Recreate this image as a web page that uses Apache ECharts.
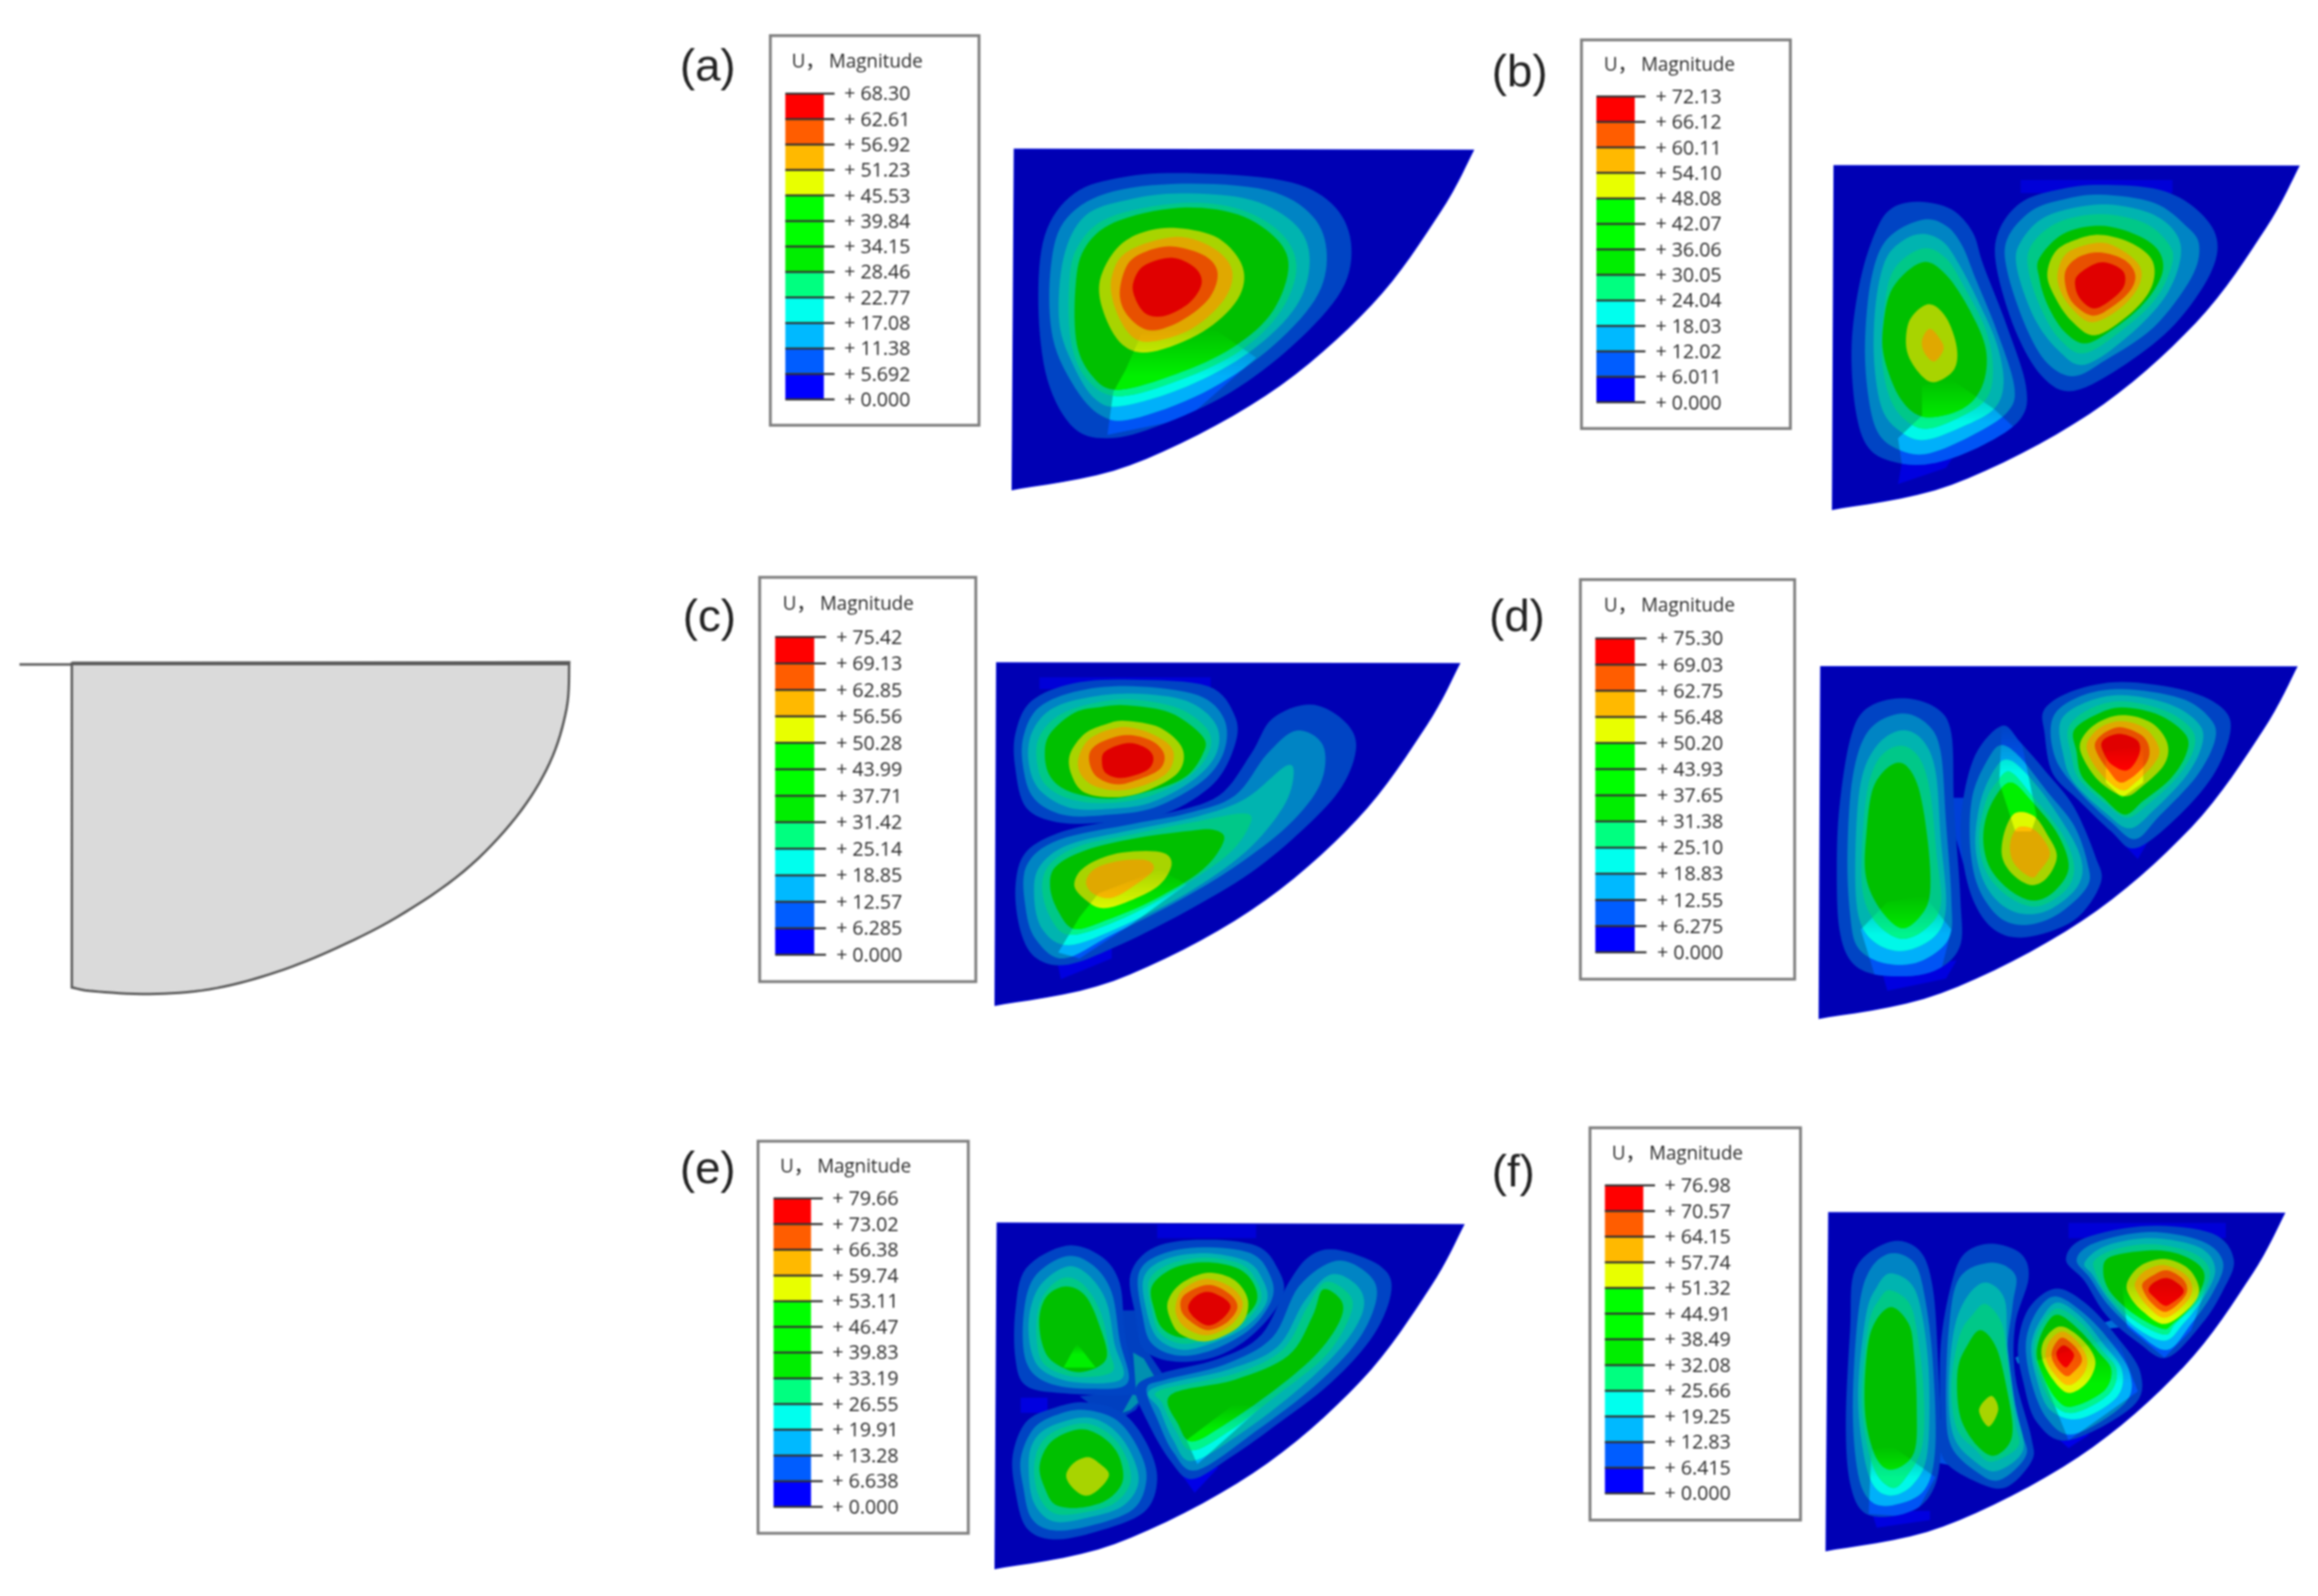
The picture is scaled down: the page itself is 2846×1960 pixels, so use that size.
<!DOCTYPE html>
<html><head><meta charset="utf-8">
<script src="https://cdn.jsdelivr.net/npm/echarts@6/dist/echarts.min.js"></script>
<style>html,body{margin:0;padding:0;background:#fff}#c{width:2846px;height:1960px;filter:blur(0.8px)}</style>
</head><body><div id="c"></div>
<script>
// ---------- values ----------
const ticksA=['68.30','62.61','56.92','51.23','45.53','39.84','34.15','28.46','22.77','17.08','11.38','5.692','0.000'];
const ticksB=['72.13','66.12','60.11','54.10','48.08','42.07','36.06','30.05','24.04','18.03','12.02','6.011','0.000'];
const ticksC=['75.42','69.13','62.85','56.56','50.28','43.99','37.71','31.42','25.14','18.85','12.57','6.285','0.000'];
const ticksD=['75.30','69.03','62.75','56.48','50.20','43.93','37.65','31.38','25.10','18.83','12.55','6.275','0.000'];
const ticksE=['79.66','73.02','66.38','59.74','53.11','46.47','39.83','33.19','26.55','19.91','13.28','6.638','0.000'];
const ticksF=['76.98','70.57','64.15','57.74','51.32','44.91','38.49','32.08','25.66','19.25','12.83','6.415','0.000'];
const legendColors=['#ff0000','#ff5d00','#ffb900','#e8ff00','#00ff00','#00ff00','#00ee00','#00ff80','#00ffee','#00b9ff','#005dff','#0000ff'];
const bandDull=['#0000b4','#0044c4','#0084c4','#00b4b0','#00c888','#00c000','#a8d400','#e0a800','#e85000','#e00000'];
const bandLit=[[0,0,235],[0,84,245],[0,176,250],[0,248,232],[0,245,140],[0,240,0],[222,250,0],[255,190,0],[255,92,0],[255,0,0]];
const arcShape=[[.928,.181],[.778,.456],[.549,.722],[.255,.927]];
const schematicArc=[1522,100,1515,270,1470,470,1380,670,1240,870,1060,1040,880,1165,720,1250,560,1305,400,1322,250,1312,192,1298];

// each blob: lit region (flat x,y list, or null), then contours [band, flat x,y list]
const blobsA=[
 {lit:[916,985,1050,970,1130,1060,1000,1250,852,1300,863,1167,886,1098],c:[
  [1,[1000,487,1180,510,1270,580,1307,700,1290,850,1200,1020,1080,1170,950,1270,860,1310,790,1280,740,1130,723,900,735,680,790,550,880,500]],
  [2,[990,520,1150,540,1235,620,1262,740,1240,880,1150,1040,1030,1170,900,1250,840,1240,790,1150,750,1000,745,800,770,640,850,550]],
  [3,[990,550,1120,570,1205,650,1230,760,1205,900,1120,1040,1000,1150,880,1210,830,1190,790,1090,762,950,770,750,810,620,890,570]],
  [4,[990,580,1100,600,1180,680,1205,790,1170,930,1090,1050,970,1140,870,1180,815,1130,785,1020,780,850,795,720,855,625]],
  [5,[985,595,1095,615,1170,695,1190,790,1155,930,1075,1040,965,1120,870,1160,825,1120,795,1020,792,850,808,725,865,640]],
  [6,[985,658,1060,690,1105,780,1095,880,1030,980,935,1042,880,1020,845,920,838,820,870,720,920,670]],
  [7,[980,685,1050,720,1085,790,1070,880,1010,970,935,1010,895,990,865,900,860,810,890,730]],
  [8,[975,715,1035,745,1058,800,1040,880,985,950,930,975,890,930,875,860,890,770,925,730]],
  [9,[972,750,1015,780,1028,830,1005,890,960,930,925,925,905,880,900,830,920,775]]]}
];
const blobsB=[
 {lit:[825,1130,880,1110,960,1200,1000,1260,900,1400,790,1400,780,1290,825,1220],c:[
  [1,[820,567,880,590,920,660,940,760,985,950,1020,1130,1010,1230,940,1310,850,1365,780,1365,725,1320,700,1200,693,1000,710,800,740,650,770,585]],
  [2,[825,622,870,640,900,700,925,800,965,960,998,1130,985,1210,920,1280,840,1335,790,1330,745,1280,725,1170,718,1000,730,800,760,680]],
  [3,[825,665,865,690,895,760,930,870,965,1000,978,1120,960,1200,900,1255,830,1295,785,1270,750,1200,735,1050,738,880,755,750,785,690]],
  [4,[825,710,870,740,905,830,945,960,958,1080,945,1170,890,1230,825,1260,775,1200,752,1080,752,930,770,780]],
  [5,[825,752,870,790,915,900,945,1020,938,1130,900,1200,830,1225,785,1170,755,1050,752,950,770,830]],
  [6,[838,880,870,920,890,1010,885,1080,850,1118,825,1100,800,1040,795,980,805,920]],
  [7,[840,955,860,990,865,1020,848,1055,830,1030,825,990]]]},
 {lit:null,c:[
  [1,[1160,515,1270,530,1340,590,1378,680,1365,790,1300,940,1210,1060,1110,1145,1050,1100,1000,960,965,770,968,660,1010,570,1080,530]],
  [2,[1160,545,1260,570,1320,640,1345,700,1330,800,1260,950,1170,1050,1110,1100,1060,1060,1020,950,985,780,985,680,1030,595,1090,560]],
  [3,[1160,575,1250,600,1300,660,1310,740,1280,860,1210,980,1130,1065,1080,1020,1035,920,1003,770,1010,690,1060,610]],
  [4,[1160,605,1240,630,1285,690,1295,750,1265,860,1200,960,1130,1030,1085,990,1050,900,1025,780,1030,700,1080,630]],
  [5,[1160,640,1230,670,1270,720,1275,790,1240,880,1180,960,1130,1000,1090,960,1060,880,1045,800,1045,740,1090,665]],
  [6,[1160,668,1220,695,1258,750,1255,830,1215,910,1150,975,1105,930,1075,860,1060,790,1075,720,1110,685]],
  [7,[1160,692,1205,720,1235,770,1230,830,1195,895,1145,935,1110,900,1085,840,1080,780,1100,720]],
  [8,[1160,722,1205,745,1225,790,1215,840,1180,890,1145,915,1110,880,1095,830,1095,775,1120,735]],
  [9,[1160,752,1200,775,1205,820,1185,860,1150,893,1125,870,1113,830,1118,790]]]}
];
const blobsC=[
 {lit:null,c:[
  [1,[900,398,1040,420,1090,520,1090,620,1050,750,960,850,850,880,760,880,700,830,680,700,680,580,710,470,790,410]],
  [2,[900,420,1020,450,1070,530,1070,640,1030,740,940,830,850,855,770,855,715,800,695,700,695,590,725,490,800,435]],
  [3,[900,445,1000,470,1055,550,1055,650,1010,740,930,815,850,835,780,830,725,770,705,680,710,580,745,500,810,460]],
  [4,[895,465,985,495,1040,570,1040,650,1000,730,925,795,845,815,780,800,735,750,720,670,725,590,760,520,820,480]],
  [5,[890,485,970,510,1030,590,1030,650,995,730,920,780,850,800,780,775,745,725,735,650,745,580,790,510,840,490]],
  [6,[885,537,950,560,992,630,985,710,930,770,870,795,810,780,785,720,782,650,810,580,850,548]],
  [7,[885,558,945,590,975,640,965,710,920,755,870,772,825,755,800,710,800,650,825,590]],
  [8,[890,585,935,605,958,650,950,700,910,735,870,752,835,730,820,690,820,640,845,605]],
  [9,[890,612,925,630,938,665,925,705,880,730,850,715,842,680,848,640]]]},
 {lit:[800,1200,835,1120,950,1040,1000,1090,900,1220,800,1340,760,1320],c:[
  [1,[1230,482,1290,530,1317,620,1290,760,1220,900,1120,1050,1000,1180,880,1290,780,1360,720,1340,690,1250,680,1100,700,980,770,910,880,870,960,850,1060,790,1120,650,1160,530]],
  [2,[1205,570,1255,620,1250,750,1190,890,1090,1030,980,1150,860,1260,770,1340,720,1280,700,1180,700,1030,760,940,900,885,1000,850,1090,790,1150,650]],
  [3,[1185,690,1200,720,1180,830,1110,980,1000,1120,880,1230,780,1295,730,1240,715,1130,725,1030,780,955,900,905,1020,860,1110,800]],
  [4,[1110,850,1115,900,1070,1000,960,1130,860,1220,780,1260,745,1200,730,1100,745,1020,800,960,900,920,1010,880]],
  [5,[1050,905,1070,940,1030,1040,940,1140,850,1210,790,1240,760,1180,745,1100,755,1030,810,975,900,935,1000,910]],
  [6,[950,980,972,1020,950,1090,900,1140,845,1170,810,1140,790,1090,810,1030,870,985]],
  [7,[925,1008,938,1040,905,1090,860,1135,825,1120,812,1080,830,1035,875,1010]]]}
];
const blobsD=[
 {lit:[760,1110,830,1090,880,1200,860,1340,740,1370,710,1200],c:[
  [1,[785,445,850,475,880,560,885,800,897,1100,895,1260,840,1340,750,1350,695,1310,670,1200,665,1000,670,800,690,580,720,480]],
  [2,[785,495,835,530,860,620,870,850,880,1100,875,1230,820,1305,755,1310,705,1260,690,1150,685,950,695,700,725,550]],
  [3,[785,550,825,580,850,680,860,900,870,1120,850,1220,790,1270,735,1240,705,1150,700,950,710,720,740,600]],
  [4,[785,600,820,640,840,750,852,950,860,1120,830,1200,785,1230,740,1180,715,1090,712,950,722,750,745,640]],
  [5,[780,655,815,720,835,900,840,1080,820,1160,785,1195,745,1130,720,1030,720,900,735,730]]]},
 {lit:[975,530,1005,530,1040,830,1030,880,1000,880,970,720],c:[
  [1,[975,535,1010,590,1060,690,1110,800,1150,960,1160,1050,1110,1170,1020,1225,960,1200,920,1100,900,950,900,800,925,630]],
  [2,[975,598,1010,640,1060,750,1110,860,1135,980,1135,1060,1080,1150,1020,1185,970,1160,930,1060,915,920,920,760,950,640]],
  [3,[985,645,1020,690,1070,800,1120,950,1120,1050,1070,1130,1020,1150,975,1120,940,1040,925,920,935,780,960,680]],
  [4,[990,685,1030,760,1085,880,1110,990,1095,1070,1040,1125,985,1090,945,1010,932,900,945,780,965,720]],
  [5,[990,720,1030,780,1080,890,1100,1000,1070,1080,1030,1105,985,1065,950,990,940,890,955,790]],
  [6,[1000,820,1035,830,1060,890,1078,960,1060,1030,1030,1055,995,1020,975,960,980,880]],
  [7,[1010,865,1040,880,1065,950,1045,1010,1030,1030,1000,990,990,940,995,890]]]},
 {lit:[1170,620,1240,600,1240,720,1200,770,1170,720],c:[
  [1,[1200,392,1320,420,1390,480,1403,560,1370,700,1300,840,1225,935,1180,880,1120,780,1070,690,1055,560,1055,480,1110,420]],
  [2,[1200,415,1310,445,1365,510,1375,580,1340,700,1270,830,1225,905,1180,850,1120,750,1075,640,1070,510,1120,440]],
  [3,[1200,435,1290,465,1345,530,1350,600,1320,700,1260,810,1215,870,1170,820,1110,720,1090,630,1085,520,1130,460]],
  [4,[1200,455,1280,485,1330,545,1335,610,1305,700,1250,790,1210,835,1170,790,1120,710,1105,630,1100,540,1140,480]],
  [5,[1200,475,1270,500,1320,565,1320,630,1290,710,1240,780,1205,825,1165,770,1125,700,1115,620,1110,550,1150,500]],
  [6,[1200,500,1255,525,1285,590,1280,660,1240,730,1205,765,1160,720,1130,650,1122,590,1150,530]],
  [7,[1200,520,1245,545,1270,610,1260,660,1225,720,1200,745,1165,700,1140,640,1135,590,1160,540]],
  [8,[1200,540,1240,570,1252,620,1240,670,1200,720,1175,680,1155,630,1150,590,1170,555]],
  [9,[1200,562,1230,585,1232,630,1210,680,1180,660,1165,620,1162,590,1175,570]]]}
];
const blobsE=[
 {lit:[795,730,830,810,770,810],c:[
  [1,[775,405,840,440,875,530,885,700,905,880,890,900,770,895,700,870,680,780,680,620,700,480]],
  [2,[775,440,825,470,860,560,875,720,890,860,820,880,740,860,700,790,695,640,715,510]],
  [3,[775,475,815,500,850,590,865,730,880,845,800,860,740,830,712,770,705,650,725,540]],
  [4,[775,510,810,540,840,630,855,750,860,825,790,840,735,800,720,720,722,620,740,550]],
  [5,[775,540,810,570,835,660,850,780,800,825,750,790,730,730,725,640,740,570]]]},
 {lit:null,c:[
  [1,[1030,385,1130,405,1170,480,1180,570,1130,690,1060,770,980,790,920,750,905,640,895,500,940,410]],
  [2,[1030,410,1120,430,1155,500,1160,580,1120,680,1050,750,985,770,935,730,918,640,910,500,950,435]],
  [3,[1035,430,1110,455,1140,510,1150,590,1110,675,1045,730,990,750,945,710,925,620,920,510,960,450]],
  [4,[1035,445,1100,465,1130,520,1138,590,1100,670,1040,715,990,730,950,695,935,620,930,520,970,465]],
  [5,[1035,460,1095,480,1125,530,1130,595,1095,660,1040,700,990,710,955,680,940,620,935,540,975,480]],
  [6,[1040,495,1090,520,1115,590,1100,670,1040,722,990,700,970,650,965,590,990,530]],
  [7,[1040,515,1085,545,1105,600,1085,665,1040,702,1000,680,980,630,985,570,1005,535]],
  [8,[1040,535,1080,565,1095,610,1075,660,1040,685,1010,660,990,620,995,570]],
  [9,[1040,558,1070,580,1082,610,1065,650,1040,670,1015,645,1003,610,1015,575]]]},
 {lit:[1000,1050,1090,930,1140,940,1020,1130],c:[
  [1,[1280,418,1360,470,1383,550,1350,700,1270,860,1160,1010,1080,1110,1010,1180,970,1120,930,1000,905,880,950,830,1060,780,1140,700,1190,530,1230,440]],
  [2,[1280,455,1340,500,1355,580,1320,720,1240,870,1130,1020,1020,1150,975,1090,945,980,925,880,960,850,1070,800,1160,710,1210,540]],
  [3,[1270,500,1320,540,1330,620,1290,740,1210,880,1100,1030,1010,1120,975,1050,950,950,935,880,1080,815,1170,740,1220,590]],
  [4,[1260,525,1305,570,1305,640,1260,770,1170,900,1080,1020,1010,1085,980,1020,955,930,950,885,1090,830,1180,750,1225,610]],
  [5,[1255,550,1290,590,1285,660,1240,770,1160,890,1070,1000,1010,1055,985,1000,970,900,1090,850,1190,770,1235,640]]]},
 {lit:null,c:[
  [1,[810,925,880,960,925,1060,945,1180,920,1290,830,1355,750,1380,700,1340,680,1220,675,1100,700,990,750,945]],
  [2,[810,950,870,985,910,1080,925,1180,900,1280,820,1335,750,1350,710,1310,695,1210,690,1110,715,1010,760,965]],
  [3,[810,975,860,1010,895,1090,910,1190,880,1270,810,1310,750,1320,715,1260,705,1160,710,1070,740,1010]],
  [4,[810,995,855,1030,885,1100,895,1190,865,1260,810,1290,755,1295,725,1240,715,1150,725,1070,755,1020]],
  [5,[810,1015,850,1050,875,1110,880,1190,850,1250,800,1275,755,1265,735,1210,725,1140,740,1070,770,1030]],
  [6,[815,1107,835,1125,855,1165,835,1215,810,1235,785,1205,775,1165,790,1125]]]}
];
const blobsF=[
 {lit:[730,1090,770,1080,850,1180,810,1310,725,1300],c:[
  [1,[765,412,820,440,845,560,855,800,860,1100,840,1240,790,1300,720,1300,690,1200,682,1000,690,700,700,500]],
  [2,[765,450,810,480,830,590,845,800,850,1080,830,1220,775,1270,730,1260,705,1170,695,950,705,650,725,510]],
  [3,[765,515,805,550,825,650,838,850,835,1100,810,1200,770,1240,735,1210,715,1100,705,900,720,650,740,560]],
  [4,[765,570,800,610,815,700,828,900,825,1080,795,1180,770,1215,740,1170,720,1060,712,900,725,680,745,600]],
  [5,[765,625,800,680,810,780,815,950,810,1100,770,1155,740,1120,720,1000,718,850,730,700]]]},
 {lit:null,c:[
  [1,[955,418,1010,450,1025,530,1000,680,1000,850,1030,1050,1030,1130,980,1215,920,1190,865,1120,860,1000,860,750,880,550,905,450]],
  [2,[955,480,1000,520,995,620,985,800,1010,1020,1020,1110,970,1190,925,1160,880,1080,870,950,875,700,895,530]],
  [3,[945,545,980,600,985,750,1000,950,1015,1090,965,1160,925,1130,885,1050,875,900,885,700,910,590]],
  [4,[945,615,975,680,985,800,1000,1000,1005,1080,955,1130,925,1090,890,1020,880,880,895,720,920,650]],
  [5,[935,700,965,760,985,900,995,1020,985,1080,955,1110,920,1060,895,970,892,830,910,750]],
  [6,[955,915,968,960,950,1015,932,960]]]},
 {lit:[1040,800,1190,720,1230,900,1100,1060],c:[
  [1,[1075,565,1130,610,1190,720,1235,840,1220,950,1100,1060,1040,1000,1015,870,1005,750,1025,630]],
  [2,[1075,590,1125,640,1175,730,1215,840,1205,940,1110,1040,1060,990,1030,870,1020,740,1040,640]],
  [3,[1080,610,1125,660,1165,745,1200,830,1190,920,1120,990,1065,960,1040,860,1030,750,1050,660]],
  [4,[1080,630,1125,680,1160,760,1190,830,1175,910,1110,970,1070,940,1045,850,1035,760,1050,680]],
  [5,[1080,650,1120,700,1155,770,1180,830,1165,900,1105,950,1075,920,1050,840,1040,770,1055,690]],
  [6,[1085,688,1125,730,1150,800,1135,870,1100,905,1070,860,1050,790,1055,730]],
  [7,[1090,705,1120,745,1135,800,1125,850,1098,880,1070,835,1057,785,1065,735]],
  [8,[1090,725,1115,760,1125,800,1110,835,1095,850,1075,815,1068,780,1075,745]],
  [9,[1092,750,1110,780,1100,815,1092,820,1080,795,1078,770]]]},
 {lit:[1200,550,1360,550,1330,700,1280,790,1210,690],c:[
  [1,[1250,360,1370,385,1410,470,1390,570,1350,680,1285,790,1230,740,1170,650,1130,540,1095,470,1130,400]],
  [2,[1250,380,1350,410,1390,480,1370,580,1330,680,1285,765,1230,710,1175,620,1140,530,1115,470,1150,415]],
  [3,[1255,400,1345,430,1375,500,1355,590,1315,680,1280,735,1225,690,1175,600,1145,520,1130,480,1170,425]],
  [4,[1260,420,1335,450,1365,510,1345,600,1300,680,1280,715,1225,670,1175,590,1150,510,1150,470,1190,435]],
  [5,[1265,440,1325,465,1355,520,1335,610,1295,680,1275,695,1225,650,1180,580,1165,510,1180,460]],
  [6,[1280,468,1325,500,1345,570,1325,630,1280,680,1240,640,1215,590,1210,545,1235,490]],
  [7,[1280,488,1320,520,1332,570,1315,620,1280,660,1250,625,1230,580,1225,545,1245,505]],
  [8,[1285,505,1315,535,1322,575,1305,615,1280,640,1255,610,1240,570,1240,545,1260,520]],
  [9,[1285,530,1310,555,1315,580,1295,610,1280,620,1262,595,1250,570,1260,545]]]}
];
// straight-sided facets and connecting strips seen between blobs: [colour, flat x,y list]
const patchesB=[['#0000d8',[1010,500,1295,500,1295,540,1010,540]],['#0000e0',[790,1340,890,1330,870,1380,780,1430]]];
const patchesC=[['#0000d8',[725,390,1045,390,1045,430,725,430]],['#0000e0',[757,1340,860,1300,860,1340,765,1410]]];
const patchesD=[['#0000e0',[750,1340,890,1300,870,1360,760,1400]],['#0000e0',[1180,880,1260,880,1230,970]],['#0040d8',[880,770,905,770,905,1000,880,850]]];
const patchesE=[['#0000d8',[945,335,1130,335,1130,380,945,380]],['#0000e0',[690,910,740,910,740,960,690,960]],['#0000e8',[985,1150,1060,1140,1015,1225]],
  ['#0040c0',[880,620,925,620,925,750,955,830,930,880,905,950,865,990,835,950,800,905,880,890,885,760]],['#0090b0',[900,760,920,780,950,870,925,900,895,950,880,960,905,880]]];
const patchesF=[['#0000d8',[1100,350,1395,350,1395,400,1100,400]],['#0000e0',[730,1290,840,1290,840,1320,740,1345]],['#0000e8',[1070,1040,1140,1040,1100,1085]],
  ['#0050e0',[850,1000,880,980,875,1140,845,1130]],['#0080d0',[1000,790,1040,760,1040,780,1005,810]],['#0070d8',[1140,690,1195,660,1200,690,1150,700]]];

// ---------- layout of each panel ----------
// crop: pixel rectangle the panel occupies; axes run 0..yMax across it
const panels=[
 {key:'(a)',crop:[800,20,1030,620],letter:[105,160],box:[222,60,612,1270],title:[262,140],bar:[250,322,240,1190],tickTo:342,labelX:360,ticks:ticksA,tl:[678,413],tr:[1536,416],bl:[674,1470],blobs:blobsA,patches:[]},
 {key:'(b)',crop:[1820,20,1026,630],letter:[70,175],box:[186,72,578,1260],title:[228,148],bar:[214,286,245,1180],tickTo:306,labelX:325,ticks:ticksB,tl:[660,457],tr:[1532,458],bl:[657,1507],blobs:blobsB,patches:patchesB},
 {key:'(c)',crop:[800,690,1030,570],letter:[108,190],box:[202,52,606,1418],title:[245,140],bar:[231,304,254,1327],tickTo:326,labelX:345,ticks:ticksC,tl:[645,341],tr:[1510,344],bl:[642,1498],blobs:blobsC,patches:patchesC},
 {key:'(d)',crop:[1820,690,1026,590],letter:[65,185],box:[184,58,586,1362],title:[228,142],bar:[212,286,250,1274],tickTo:308,labelX:328,ticks:ticksD,tl:[635,342],tr:[1528,343],bl:[632,1490],blobs:blobsD,patches:patchesD},
 {key:'(e)',crop:[800,1380,1030,580],letter:[105,155],box:[199,58,592,1360],title:[240,142],bar:[228,298,248,1272],tickTo:320,labelX:338,ticks:ticksE,tl:[646,330],tr:[1518,335],bl:[642,1477],blobs:blobsE,patches:patchesE},
 {key:'(f)',crop:[1820,1370,1026,590],letter:[58,190],box:[202,40,597,1320],title:[243,122],bar:[230,302,228,1233],tickTo:324,labelX:342,ticks:ticksF,tl:[650,317],tr:[1505,319],bl:[645,1420],blobs:blobsF,patches:patchesF}
];
const schematicCrop=[0,780,720,460];

// ---------- helpers ----------
function pairs(f){const r=[];for(let i=0;i<f.length;i+=2)r.push([f[i],f[i+1]]);return r;}
function spline(p,closed){
  const n=p.length,out=[],segs=closed?n:n-1,sub=8;
  const at=i=>closed?p[(i+n)%n]:p[Math.max(0,Math.min(n-1,i))];
  for(let i=0;i<segs;i++){
    const a=at(i-1),b=at(i),c=at(i+1),d=at(i+2);
    for(let k=0;k<sub;k++){const t=k/sub,t2=t*t,t3=t2*t;
      out.push([.5*(2*b[0]+(c[0]-a[0])*t+(2*a[0]-5*b[0]+4*c[0]-d[0])*t2+(3*b[0]-a[0]-3*c[0]+d[0])*t3),
                .5*(2*b[1]+(c[1]-a[1])*t+(2*a[1]-5*b[1]+4*c[1]-d[1])*t2+(3*b[1]-a[1]-3*c[1]+d[1])*t3)]);}
  }
  if(!closed)out.push(p[n-1]);
  return out;
}
const LABEL_FONT='500 24px "Open Sans","Noto Sans CJK SC",sans-serif';
function panelItems(P){
  const items=[];
  const [bx0,by0,bx1,by1]=P.box;
  items.push({k:'poly',pts:[[bx0,by0],[bx1,by0],[bx1,by1],[bx0,by1]],fill:'#fff',stroke:'#808080',lw:3.5});
  items.push({k:'text',at:[P.title[0],P.title[1]+3],text:'U， Magnitude',font:'500 23px "Open Sans","Noto Sans CJK SC",sans-serif',fill:'#2a2a2a',align:'left'});
  items.push({k:'text',at:P.letter,text:P.key,font:'56px "Liberation Sans",Arial,sans-serif',fill:'#222',align:'center'});
  const [x0,x1,y0,y1]=P.bar,n=P.ticks.length,step=(y1-y0)/(n-1);
  P.ticks.forEach((t,i)=>{
    const y=y0+i*step;
    if(i<n-1)items.push({k:'poly',pts:[[x0,y],[x1,y],[x1,y+step],[x0,y+step]],fill:legendColors[i],stroke:null});
  });
  P.ticks.forEach((t,i)=>{
    const y=y0+i*step;
    items.push({k:'line',a:[x0,y],b:[P.tickTo,y],stroke:'#333',lw:2.5});
    items.push({k:'text',at:[P.labelX,y+4],text:'+ '+t,font:LABEL_FONT,fill:'#2a2a2a',align:'left'});
  });
  const w=P.tr[0]-P.bl[0],h=P.bl[1]-P.tr[1];
  const arc=[P.tr].concat(arcShape.map(a=>[P.bl[0]+a[0]*w,P.tr[1]+a[1]*h]),[P.bl]);
  items.push({k:'poly',pts:[P.tl].concat(spline(arc,false)),fill:bandDull[0],stroke:'#0008d0',lw:1.5});
  P.patches.forEach(p=>items.push({k:'poly',pts:pairs(p[1]),fill:p[0],stroke:null}));
  P.blobs.forEach(b=>{
    const clip=b.lit?pairs(b.lit):null;
    b.c.forEach(c=>{
      const pts=spline(pairs(c[1]),true);
      items.push({k:'poly',pts,fill:bandDull[c[0]],stroke:null});
      if(clip)items.push({k:'poly',pts,lit:bandLit[c[0]],stroke:null,clip});
    });
  });
  return items;
}
function makeRender(items){
  return function(params,api){
    const it=items[api.value(0)];
    const C=p=>api.coord(p);
    if(it.k==='poly'){
      let fill=it.fill;
      const el={type:'polygon',shape:{points:it.pts.map(C)},style:{fill,stroke:it.stroke||null,lineWidth:it.lw||0}};
      if(it.clip){
        const cp=it.clip.map(C),ys=cp.map(q=>q[1]),t=Math.min(...ys),b=Math.max(...ys),rgb=it.lit.join(',');
        el.style.fill={type:'linear',global:true,x:0,y:t,x2:0,y2:t+(b-t)*.45,
          colorStops:[{offset:0,color:'rgba('+rgb+',0)'},{offset:1,color:'rgba('+rgb+',1)'}]};
        el.clipPath={type:'polygon',shape:{points:cp}};
      }
      return el;
    }
    if(it.k==='line'){
      const a=C(it.a),b=C(it.b);
      return {type:'line',shape:{x1:a[0],y1:a[1],x2:b[0],y2:b[1]},style:{stroke:it.stroke,lineWidth:it.lw}};
    }
    const q=C(it.at);
    return {type:'text',style:{x:q[0],y:q[1],text:it.text,font:it.font,fill:it.fill,textAlign:it.align,textVerticalAlign:'middle'}};
  };
}
// ---------- option ----------
const grid=[],xAxis=[],yAxis=[],series=[];
function addPanel(crop,items,yMax){
  const i=grid.length;
  grid.push({left:crop[0],top:crop[1],width:crop[2],height:crop[3]});
  xAxis.push({type:'value',gridIndex:i,min:0,max:1568,show:false});
  yAxis.push({type:'value',gridIndex:i,min:0,max:yMax,inverse:true,show:false});
  series.push({type:'custom',xAxisIndex:i,yAxisIndex:i,clip:false,silent:true,animation:false,
    coordinateSystem:'cartesian2d',renderItem:makeRender(items),encode:{x:0,y:1},
    data:items.map((_,k)=>[k,0])});
}
panels.forEach(P=>addPanel(P.crop,panelItems(P),1568));
const sk=[];
sk.push({k:'poly',pts:[[192,104]].concat(spline(pairs(schematicArc),false)).concat([[192,104]]),fill:'#dadada',stroke:'#5a5a5a',lw:3});
sk.push({k:'line',a:[192,104],b:[1522,104],stroke:'#5a5a5a',lw:4.5});
sk.push({k:'line',a:[52,108],b:[190,108],stroke:'#5a5a5a',lw:3});
addPanel(schematicCrop,sk,1380);
const chart=echarts.init(document.getElementById('c'),null,{width:2846,height:1960});
chart.setOption({animation:false,backgroundColor:'#fff',grid,xAxis,yAxis,series});
</script></body></html>
